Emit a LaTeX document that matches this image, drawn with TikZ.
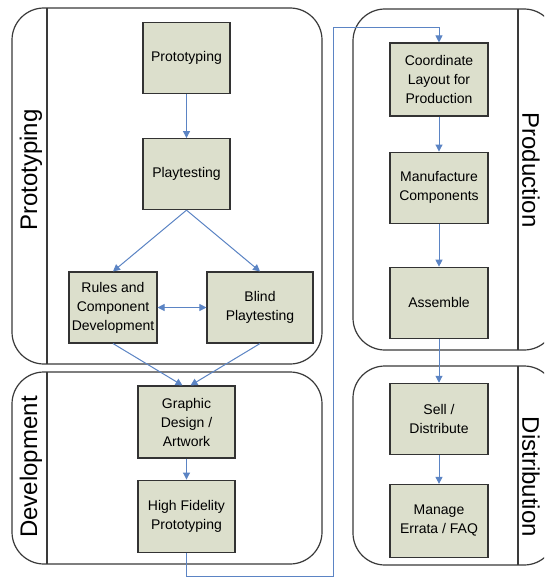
\documentclass[tikz,border=0pt]{standalone}
\usepackage{fontspec}
\setmainfont{Liberation Sans}
\usetikzlibrary{arrows.meta,positioning}

\definecolor{boxfill}{HTML}{DCDFCC}
\definecolor{boxline}{HTML}{333333}
\definecolor{laneline}{HTML}{3A3A3A}
\definecolor{flowblue}{HTML}{5B84C4}

\begin{document}
\begin{tikzpicture}[%
      x=1pt,y=-1pt,
      >={Triangle[length=7pt,width=7pt]}, % small filled heads
      node distance=40pt,
      font=\fontsize{14}{19}\selectfont
      ]
  \tikzset{
     stage/.style={draw=boxline,line width=1.1pt,fill=boxfill,align=center,
        rectangle,minimum width=98pt,minimum height=71pt,inner sep=2pt},
     lane/.style={draw=laneline,line width=1.2pt,rounded corners=32pt},
     divider/.style={draw=laneline,line width=1.2pt},
     lanetitle/.style={font=\fontsize{24}{28}\selectfont,inner sep=0pt},
     flow/.style={draw=flowblue,line width=1pt}}
 \fill[white] (0,0) rectangle (544,578);
 \clip (0,0) rectangle (544,578);

 % swim lanes
 \draw[lane] (12,8) rectangle (322,364);
 \draw[divider] (47,8) -- (47,364);
 \draw[lane] (12,372) rectangle (322,564);
 \draw[divider] (47,372) -- (47,564);
 \draw[lane] (353,9) rectangle (556,350);
 \draw[divider] (518,9) -- (518,350);
 \draw[lane] (353,366) rectangle (556,565);
 \draw[divider] (518,366) -- (518,565);

 \node[lanetitle,rotate=90] (tproto) at (31,170) {Prototyping};
 \node[lanetitle,rotate=90] (tdev) at (31,467) {Development};
 \node[lanetitle,rotate=-90] (tprod) at (531,170) {Production};
 \node[lanetitle,rotate=-90] (tdist) at (531,477) {Distribution};

 % left column
 \node [stage,minimum width=87pt] (proto) at (186.5,58) {Prototyping};
 \node [stage,minimum width=87pt,below=44pt of proto] (play) {Playtesting};
 \node [stage,minimum width=88pt] (rules) at (113,307.5) {Rules and\\Component\\Development};
 \node [stage,minimum width=106pt] (blind) at (260,307.5) {Blind\\Playtesting};
 \node [stage,minimum width=97pt,minimum height=72pt] (graphic) at (186.5,422) {Graphic\\Design /\\Artwork};
 \node [stage,minimum width=97pt,minimum height=72pt,below=21pt of graphic] (hifi) {High Fidelity\\Prototyping};

 % right column
 \node [stage,minimum height=73pt] (coord) at (439,79.5) {Coordinate\\Layout for\\Production};
 \node [stage,below=35pt of coord] (manuf) {Manufacture\\Components};
 \node [stage,below=43pt of manuf] (assem) {Assemble};
 \node [stage,below=44pt of assem] (sell) {Sell /\\Distribute};
 \node [stage,minimum height=73pt,below=29pt of sell] (manage) {Manage\\Errata / FAQ};

 \coordinate (low) at (333,576);
 \coordinate (high) at (333,28);

 \draw[flow,->] (proto) -- (play);
 \draw[flow,->] (play.south) -- (rules.north);
 \draw[flow,->] (play.south) -- (blind.north);
 \draw[flow,<->] (rules) -- (blind);
 \draw[flow,->] (rules.south) -- ([xshift=-4pt]graphic.north);
 \draw[flow,->] (blind.south) -- ([xshift=4pt]graphic.north);
 \draw[flow,->] (graphic) -- (hifi);
 \draw[flow,->] (hifi.south) |- (low) -- (high) -| (coord.north);
 \draw[flow,->] (coord) -- (manuf);
 \draw[flow,->] (manuf) -- (assem);
 \draw[flow,->] (assem) -- (sell);
 \draw[flow,->] (sell) -- (manage);
\end{tikzpicture}
\end{document}
